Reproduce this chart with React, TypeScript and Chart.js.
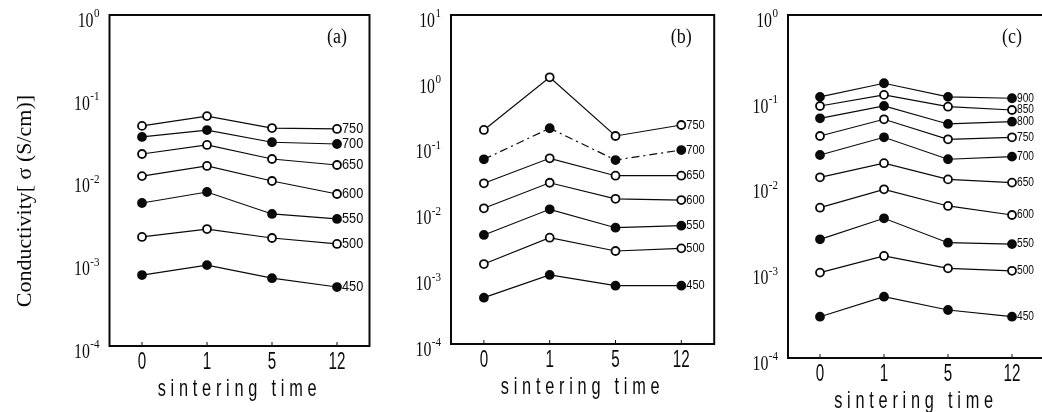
import React, { useEffect, useRef } from 'react';
import { Chart, registerables } from 'chart.js';

Chart.register(...registerables);

// ---------- data ----------
const sinteringTimes = ['0', '1', '5', '12'];

const panelATemps = ['750', '700', '650', '600', '550', '500', '450'];
const panelAValues = [
  [0.0457, 0.06, 0.043, 0.042],
  [0.0336, 0.0407, 0.029, 0.0276],
  [0.0209, 0.0269, 0.0182, 0.0154],
  [0.0113, 0.015, 0.00986, 0.00687],
  [0.00535, 0.00726, 0.00394, 0.00343],
  [0.00208, 0.00259, 0.00202, 0.00171],
  [0.00072, 0.00095, 0.00066, 0.000516],
];
const panelAFilled = [false, true, false, false, true, false, true];

const panelBTemps = ['750', '700', '650', '600', '550', '500', '450'];
const panelBValues = [
  [0.179, 1.13, 0.145, 0.213],
  [0.0641, 0.19, 0.0625, 0.0887],
  [0.0277, 0.0664, 0.0361, 0.0361],
  [0.01154, 0.0282, 0.0161, 0.0154],
  [0.00454, 0.01114, 0.00585, 0.00628],
  [0.00164, 0.00413, 0.00259, 0.00284],
  [0.000506, 0.00112, 0.000769, 0.000769],
];
const panelBFilled = [false, true, false, false, true, false, true];
const panelBDashed = [false, true, false, false, false, false, false];

const panelCTemps = ['900', '850', '800', '750', '700', '650', '600', '550', '500', '450'];
const panelCValues = [
  [0.111, 0.16, 0.111, 0.107],
  [0.0869, 0.117, 0.0853, 0.078],
  [0.0624, 0.0869, 0.0536, 0.057],
  [0.0388, 0.0608, 0.0355, 0.0375],
  [0.0233, 0.0375, 0.0208, 0.0223],
  [0.0128, 0.0187, 0.0121, 0.0111],
  [0.00566, 0.00927, 0.00593, 0.00465],
  [0.00242, 0.00426, 0.00221, 0.00213],
  [0.00099, 0.00155, 0.00111, 0.00104],
  [0.000303, 0.000519, 0.000363, 0.000303],
];
const panelCFilled = [true, false, true, false, true, false, false, true, false, true];

const yAxisTitle = 'Conductivity[ σ (S/cm)]';
const xAxisTitle = 'sintering time';

// ---------- layout ----------
type Panel = {
  letter: string;
  temps: string[];
  values: number[][];
  filled: boolean[];
  dashed?: boolean[];
  yMin: number;
  yMax: number;
  canvasLeft: number;
  canvasWidth: number;
  yAxisWidth: number;
  padRight: number;
  padTop: number;
  xAxisHeight: number;
  labelFont: number;
  showYTitle: boolean;
};

const panels: Panel[] = [
  {
    letter: '(a)', temps: panelATemps, values: panelAValues, filled: panelAFilled,
    yMin: 1e-4, yMax: 1, canvasLeft: 0, canvasWidth: 380, yAxisWidth: 109.5, padRight: 10.5,
    padTop: 15, xAxisHeight: 66, labelFont: 15, showYTitle: true,
  },
  {
    letter: '(b)', temps: panelBTemps, values: panelBValues, filled: panelBFilled, dashed: panelBDashed,
    yMin: 1e-4, yMax: 10, canvasLeft: 380, canvasWidth: 340, yAxisWidth: 71, padRight: 5,
    padTop: 15, xAxisHeight: 68, labelFont: 13, showYTitle: false,
  },
  {
    letter: '(c)', temps: panelCTemps, values: panelCValues, filled: panelCFilled,
    yMin: 1e-4, yMax: 1, canvasLeft: 720, canvasWidth: 340, yAxisWidth: 68, padRight: 16,
    padTop: 15, xAxisHeight: 54, labelFont: 12, showYTitle: false,
  },
];

const SERIF = '"Liberation Serif", "DejaVu Serif", serif';
const NARROW = '"Liberation Sans Narrow", "Liberation Sans", Arial, sans-serif';
const INK = '#0a0a0a';

function drawText(
  ctx: CanvasRenderingContext2D, text: string, x: number, y: number, font: string,
  scaleX: number, align: CanvasTextAlign, baseline: CanvasTextBaseline, spacing?: string,
) {
  ctx.save();
  ctx.translate(x, y);
  ctx.scale(scaleX, 1);
  ctx.font = font;
  ctx.fillStyle = INK;
  ctx.textAlign = align;
  ctx.textBaseline = baseline;
  if (spacing) (ctx as any).letterSpacing = spacing;
  ctx.fillText(text, 0, 0);
  ctx.restore();
}

function makePlugin(panel: Panel) {
  return {
    id: 'panelDecor' + panel.letter,
    afterDraw(chart: any) {
      const ctx: CanvasRenderingContext2D = chart.ctx;
      const { left, right, top, bottom } = chart.chartArea;
      const xs = chart.scales.x;
      const ys = chart.scales.y;

      // frame
      ctx.save();
      ctx.strokeStyle = INK;
      ctx.lineWidth = 2;
      ctx.strokeRect(left, top, right - left, bottom - top);
      ctx.lineWidth = 1;
      sinteringTimes.forEach((_, i) => {
        const x = xs.getPixelForValue(i);
        ctx.beginPath();
        ctx.moveTo(x, bottom);
        ctx.lineTo(x, bottom - 4);
        ctx.stroke();
      });
      ctx.restore();

      // y tick labels 10^n
      const eMin = Math.round(Math.log10(panel.yMin));
      const eMax = Math.round(Math.log10(panel.yMax));
      for (let e = eMin; e <= eMax; e++) {
        const y = ys.getPixelForValue(Math.pow(10, e));
        const exp = e < 0 ? '-' + -e : String(e);
        const rightEdge = left - 10;
        ctx.save();
        ctx.font = '13px ' + SERIF;
        const expW = ctx.measureText(exp).width * 0.85;
        ctx.restore();
        drawText(ctx, exp, rightEdge, y - 1, '13px ' + SERIF, 0.85, 'right', 'middle');
        drawText(ctx, '10', rightEdge - expW - 0.5, y + 6, '22px ' + SERIF, 0.72, 'right', 'middle');
      }

      // x tick labels
      sinteringTimes.forEach((t, i) => {
        const x = xs.getPixelForValue(i);
        drawText(ctx, t, x, bottom + 17, '23px ' + NARROW, 0.66, 'center', 'middle');
      });

      // x title
      drawText(ctx, xAxisTitle, (left + right) / 2, bottom + 50, '24px ' + NARROW, 0.68, 'center', 'alphabetic', '7px');

      // y title
      if (panel.showYTitle) {
        ctx.save();
        ctx.translate(25, 201);
        ctx.rotate(-Math.PI / 2);
        ctx.font = '22px ' + SERIF;
        ctx.fillStyle = INK;
        ctx.textAlign = 'center';
        ctx.textBaseline = 'middle';
        ctx.fillText(yAxisTitle, 0, 0);
        ctx.restore();
      }

      // panel letter
      const lx = xs.getPixelForValue(sinteringTimes.length - 1);
      drawText(ctx, panel.letter, lx, top + 23, '20px ' + SERIF, 0.9, 'center', 'middle');

      // series labels at the right end
      panel.temps.forEach((temp, i) => {
        const meta = chart.getDatasetMeta(i);
        const pt = meta.data[meta.data.length - 1];
        if (!pt) return;
        drawText(ctx, temp, pt.x + 5, pt.y, panel.labelFont + 'px ' + NARROW, 0.85, 'left', 'middle');
      });
    },
  };
}

function PanelChart({ panel }: { panel: Panel }) {
  const ref = useRef<HTMLCanvasElement | null>(null);
  useEffect(() => {
    if (!ref.current) return;
    const chart = new Chart(ref.current, {
      type: 'line',
      data: {
        labels: sinteringTimes,
        datasets: panel.values.map((vals, i) => ({
          label: panel.temps[i],
          data: vals,
          borderColor: INK,
          borderWidth: 1.2,
          borderDash: panel.dashed && panel.dashed[i] ? [8, 4, 2, 4] : [],
          pointRadius: 4,
          pointBorderWidth: 1.8,
          pointBorderColor: INK,
          pointBackgroundColor: panel.filled[i] ? INK : '#fff',
          tension: 0,
          fill: false,
        })),
      },
      options: {
        responsive: false,
        animation: false,
        devicePixelRatio: 1,
        events: [],
        layout: { padding: { top: panel.padTop, right: panel.padRight, left: 0, bottom: 0 } },
        plugins: { legend: { display: false }, tooltip: { enabled: false }, title: { display: false } },
        scales: {
          x: {
            type: 'category',
            offset: true,
            grid: { display: false, drawTicks: false },
            border: { display: false },
            ticks: { display: false },
            afterFit: (s: any) => { s.height = panel.xAxisHeight; },
          },
          y: {
            type: 'logarithmic',
            min: panel.yMin,
            max: panel.yMax,
            grid: { display: false, drawTicks: false },
            border: { display: false },
            ticks: { display: false },
            afterFit: (s: any) => { s.width = panel.yAxisWidth; },
          },
        },
      } as any,
      plugins: [makePlugin(panel)],
    });
    return () => chart.destroy();
  }, [panel]);
  return (
    <canvas
      ref={ref}
      width={panel.canvasWidth}
      height={412}
      style={{ position: 'absolute', left: panel.canvasLeft, top: 0, width: panel.canvasWidth, height: 412 }}
    />
  );
}

export default function App() {
  return (
    <div style={{ position: 'absolute', left: 0, top: 0, width: 1042, height: 412, overflow: 'hidden', background: '#fff' }}>
      {panels.map((p) => (
        <PanelChart key={p.letter} panel={p} />
      ))}
    </div>
  );
}
